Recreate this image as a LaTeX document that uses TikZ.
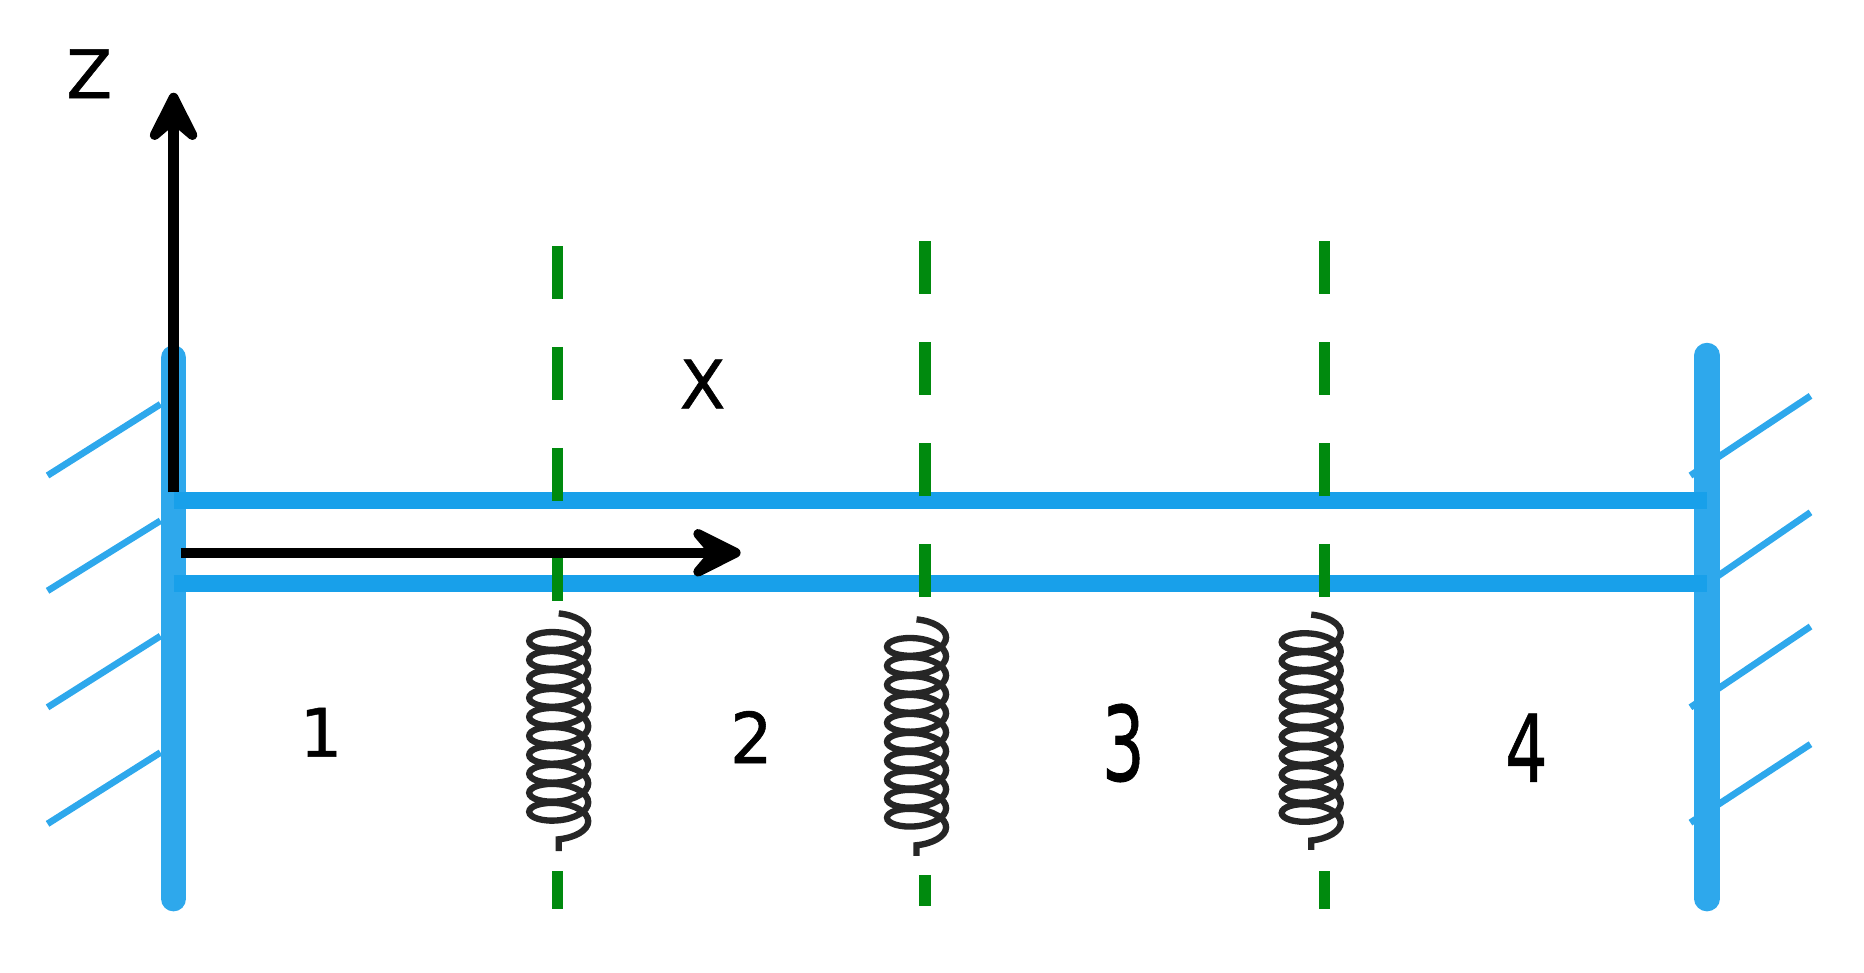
\documentclass[tikz,border=0pt]{standalone}
\usepackage{fontspec}
\setmainfont[FakeBold=0.8]{DejaVu Sans}
\usetikzlibrary{arrows.meta, decorations.pathmorphing}
\definecolor{wallblue}{HTML}{2EA8EC}
\definecolor{beamblue}{HTML}{18A0EA}
\definecolor{cutgreen}{HTML}{008A0E}
\tikzstyle{wall} = [draw=wallblue, line width=7.2pt, line cap=round]
\tikzstyle{hatch} = [draw=wallblue, line width=1.9pt]
\tikzstyle{beam} = [draw=beamblue, line width=5pt]
\tikzstyle{cut} = [draw=cutgreen, line width=3.2pt, dash pattern=on 15pt off 13.7pt]
\tikzstyle{arrow} = [draw, line width=2.9pt, -{Stealth[length=19pt, width=19pt, inset=8pt, round]}]
\tikzstyle{coilspring} = [draw=black!85, line width=1.8pt, decorate, decoration={coil, aspect=0.45, segment length=5.4pt, amplitude=8.4pt}]
\tikzstyle{lab} = [inner sep=0pt, font=\fontsize{19}{19}\selectfont, transform shape]
\begin{document}
\begin{tikzpicture}[x=0.01189cm, y=-0.01189cm]
    \useasboundingbox (0,0) rectangle (1568,818);

    % Walls and hatching
    \coordinate (wallLtop) at (146,301);
    \coordinate (wallLbot) at (146,756);
    \coordinate (wallRtop) at (1436,299);
    \coordinate (wallRbot) at (1436,756);
    \draw [hatch] (40,400) -- (135,340);
    \draw [hatch] (40,497) -- (135,438);
    \draw [hatch] (40,595) -- (135,535);
    \draw [hatch] (40,693) -- (135,633);
    \draw [hatch] (1422,400) -- (1523,333);
    \draw [hatch] (1440,488) -- (1523,431);
    \draw [hatch] (1422,595) -- (1523,527);
    \draw [hatch] (1422,692) -- (1523,626);
    \draw [wall] (wallLtop) -- (wallLbot);
    \draw [wall] (wallRtop) -- (wallRbot);

    % Beam
    \draw [beam] (146,421) -- (1436,421);
    \draw [beam] (146,491) -- (1436,491);

    % Cut lines
    \coordinate (cutA) at (469,207);
    \coordinate (cutB) at (778,203);
    \coordinate (cutC) at (1114,203);
    \draw [cut] (cutA) -- (469,507);
    \draw [cut] (cutB) -- (778,505);
    \draw [cut] (cutC) -- (1114,505);
    \draw [cut] (469,733) -- (469,765);
    \draw [cut] (778,736) -- (778,762);
    \draw [cut] (1114,733) -- (1114,765);

    % Springs
    \draw [coilspring] (470,516) -- (470,716);
    \draw [coilspring] (771,521) -- (771,720);
    \draw [coilspring] (1103,517) -- (1103,715);

    % Axes
    \coordinate (origZ) at (146,414);
    \coordinate (tipZ) at (146,78);
    \coordinate (origX) at (152,465);
    \coordinate (tipX) at (623,465);
    \draw [arrow] (origZ) -- (tipZ);
    \draw [arrow] (origX) -- (tipX);

    % Labels
    \node (labZ) [lab] at (75,62) {Z};
    \node (labX) [lab] at (591,323) {X};
    \node (reg1) [lab] at (270,616) {1};
    \node (reg2) [lab, yscale=1.05] at (632,620) {2};
    \node (reg3) [lab, yscale=1.55] at (945,625) {3};
    \node (reg4) [lab, yscale=1.4] at (1284,629) {4};
\end{tikzpicture}
\end{document}
